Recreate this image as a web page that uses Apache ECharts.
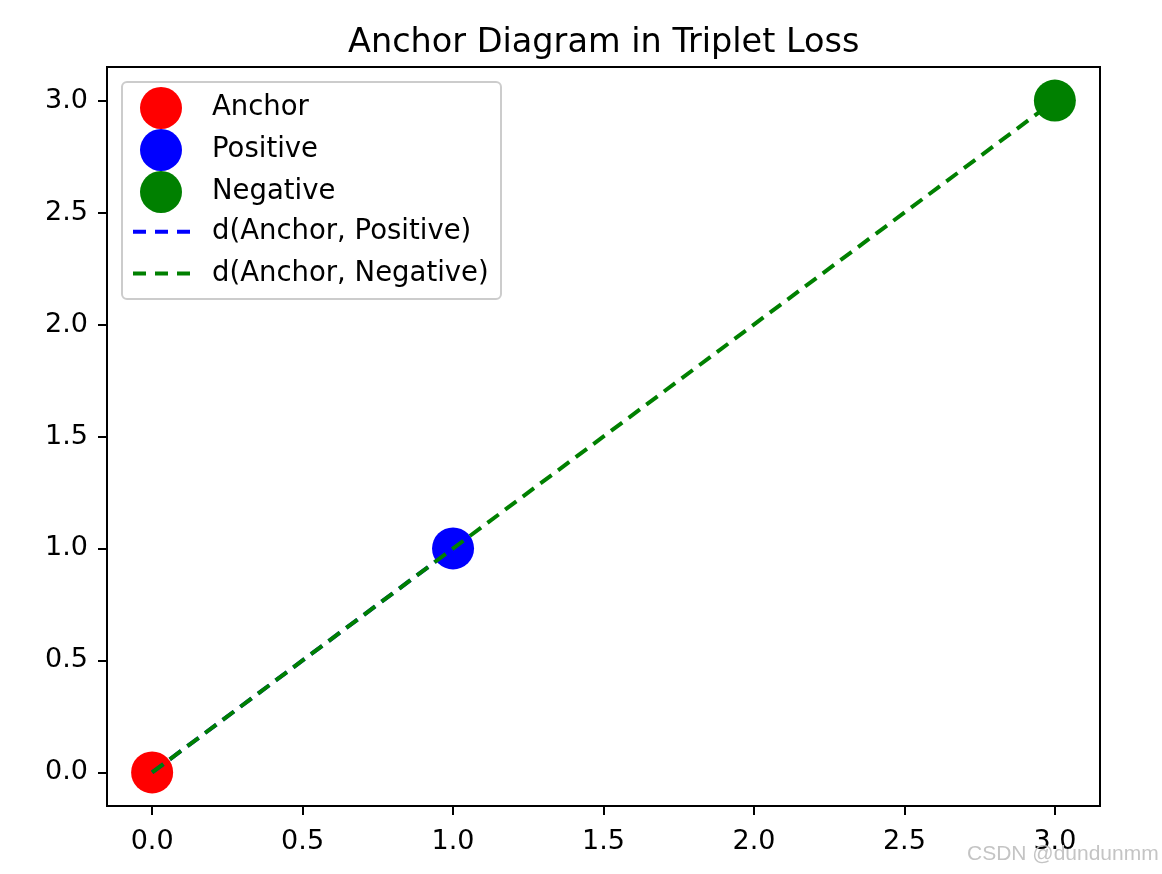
<!DOCTYPE html>
<html>
<head>
<meta charset="utf-8">
<script src="https://cdn.jsdelivr.net/npm/echarts@6/dist/echarts.min.js"></script>
<style>
html,body{margin:0;padding:0;background:#fff;}
#chart{width:1162px;height:874px;}
</style>
</head>
<body>
<div id="chart"></div>
<script>
// Data
const anchorPoint = [0, 0];
const positivePoint = [1, 1];
const negativePoint = [3, 3];
const tickValues = [0, 0.5, 1, 1.5, 2, 2.5, 3];
const seriesNames = ['Anchor', 'Positive', 'Negative', 'd(Anchor, Positive)', 'd(Anchor, Negative)'];

const FONT = 'DejaVu Sans';
const DASH_ICON = 'path://M0,0H13V4H0Z M22,0H35V4H22Z M44,0H57V4H44Z';
const chart = echarts.init(document.getElementById('chart'), null, {renderer: 'canvas'});

function axisCfg(isX) {
  return {
    type: 'value',
    min: -0.15,
    max: 3.15,
    splitLine: {show: false},
    axisLine: {show: true, onZero: false, lineStyle: {color: '#000', width: 2}},
    axisTick: {show: true, inside: false, length: 9, lineStyle: {color: '#000', width: 2}, customValues: tickValues},
    axisLabel: {
      show: true, customValues: tickValues, color: '#000', fontFamily: FONT, fontSize: 27,
      margin: isX ? 22 : 19,
      formatter: v => Number(v).toFixed(1)
    }
  };
}

const option = {
  animation: false,
  backgroundColor: '#fff',
  title: {
    text: 'Anchor Diagram in Triplet Loss',
    left: 348,
    top: 26,
    padding: 0,
    textStyle: {fontFamily: FONT, fontSize: 33.5, fontWeight: 'normal', color: '#000'}
  },
  grid: {
    left: 107, right: 62, top: 67, bottom: 68,
    show: true, borderColor: '#000', borderWidth: 2, backgroundColor: '#fff'
  },
  xAxis: axisCfg(true),
  yAxis: axisCfg(false),
  legend: [
    {
      data: seriesNames.slice(0, 3).map(n => ({name: n, icon: 'circle'})),
      orient: 'vertical',
      left: 140, top: 87, padding: 0,
      itemWidth: 42, itemHeight: 42, itemGap: 0, itemTextGap: 5,
      textStyle: {fontFamily: FONT, fontSize: 27.5, color: '#000', lineHeight: 41.7, padding: [0, 0, 0, 25]},
      selectedMode: false, z: 10
    },
    {
      data: seriesNames.slice(3).map(n => ({name: n, icon: DASH_ICON})),
      orient: 'vertical',
      left: 133, top: 211, padding: 0,
      itemWidth: 57, itemHeight: 4, itemGap: 0, itemTextGap: 5,
      textStyle: {fontFamily: FONT, fontSize: 27.5, color: '#000', lineHeight: 41.7, padding: [0, 0, 0, 17]},
      selectedMode: false, z: 10
    }
  ],
  graphic: [
    {
      type: 'rect', z: 5,
      shape: {x: 122, y: 82, width: 379, height: 217, r: 5},
      style: {fill: 'rgba(255,255,255,0.8)', stroke: '#cccccc', lineWidth: 2}
    },
    {
      type: 'text', z: 20,
      left: 967, top: 844,
      style: {text: 'CSDN @dundunmm', fill: '#c4c4c4', font: '21px "Liberation Sans", Arial, sans-serif'}
    }
  ],
  series: [
    {name: seriesNames[0], type: 'scatter', data: [anchorPoint], symbolSize: 42, itemStyle: {color: '#ff0000', opacity: 1}, z: 2},
    {name: seriesNames[1], type: 'scatter', data: [positivePoint], symbolSize: 42, itemStyle: {color: '#0000ff', opacity: 1}, z: 2},
    {name: seriesNames[2], type: 'scatter', data: [negativePoint], symbolSize: 42, itemStyle: {color: '#008000', opacity: 1}, z: 2},
    {name: seriesNames[3], type: 'line', data: [anchorPoint, positivePoint], showSymbol: false, symbol: 'none',
      lineStyle: {color: '#0000ff', width: 4, type: [14, 8], cap: 'butt'}, itemStyle: {color: '#0000ff'}, z: 3},
    {name: seriesNames[4], type: 'line', data: [anchorPoint, negativePoint], showSymbol: false, symbol: 'none',
      lineStyle: {color: '#008000', width: 4, type: [14, 8], cap: 'butt'}, itemStyle: {color: '#008000'}, z: 4}
  ]
};
chart.setOption(option);
</script>
</body>
</html>
